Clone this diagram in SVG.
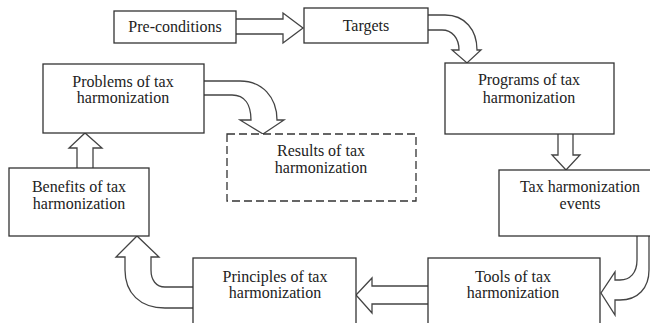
<svg xmlns="http://www.w3.org/2000/svg" width="650" height="323" viewBox="0 0 650 323">
<style>
.box{fill:#fff;stroke:#333;stroke-width:1.3}
.dash{fill:#fff;stroke:#333;stroke-width:1.3;stroke-dasharray:8 4}
.arr{fill:#fff;stroke:#444;stroke-width:1.3;stroke-linejoin:miter}
text{font-family:"Liberation Serif","Times New Roman",serif;font-size:16px;fill:#222;text-anchor:middle}
</style>
<rect width="650" height="323" fill="#fff"/>
<g id="connectors">
<path class="arr" d="M236,19 H283 V13 L303,28 L283,43 V34 H236"/>
<path class="arr" d="M428,15 H445 C465,15 477,30 477,50 H481 L467,63 L452,50 H459 C459,38 452,30 442,30 H428"/>
<path class="arr" d="M558,134 V155 H552 L566,170 L580,155 H573 V134"/>
<path class="arr" d="M637,236 V260 C637,273 630,280 620,280 H615 V272 L601,293 L615,315 V300 H620 C638,300 649,288 649,270 V236"/>
<path class="arr" d="M428,286 H372 V278 L356,295 L372,313 V304 H428"/>
<path class="arr" d="M193,287 H165 C156,287 151,280 151,270 V257 H159 L137,236 L116,257 H125 V270 C125,293 140,308 165,308 H193"/>
<path class="arr" d="M77,168 V148 H69 L85,133 L102,148 H93 V168"/>
<path class="arr" d="M204,81 H240 C262,81 277,97 277,120 H284 L263,134 L240,120 H251 C251,105 245,95 232,95 H204"/>
</g>
<g id="preconditions"><rect class="box" x="114" y="11" width="122" height="32"/><text x="175" y="32">Pre-conditions</text></g>
<g id="targets"><rect class="box" x="304" y="8" width="124" height="35"/><text x="366" y="31">Targets</text></g>
<g id="programs"><rect class="box" x="445" y="63" width="169" height="71"/><text x="529" y="85">Programs of tax</text><text x="529" y="103">harmonization</text></g>
<g id="events"><rect class="box" x="499" y="170" width="160" height="66"/><text x="580" y="192">Tax harmonization</text><text x="580" y="209">events</text></g>
<g id="tools"><rect class="box" x="428" y="258" width="172" height="75"/><text x="513" y="282">Tools of tax</text><text x="513" y="298">harmonization</text></g>
<g id="principles"><rect class="box" x="193" y="258" width="163" height="75"/><text x="275" y="282">Principles  of tax</text><text x="275" y="298">harmonization</text></g>
<g id="benefits"><rect class="box" x="9" y="168" width="140" height="68"/><text x="79" y="192">Benefits of tax</text><text x="79" y="209">harmonization</text></g>
<g id="problems"><rect class="box" x="43" y="64" width="161" height="69"/><text x="123" y="87">Problems of tax</text><text x="123" y="103">harmonization</text></g>
<g id="results"><rect class="dash" x="227" y="134" width="189" height="67"/><text x="321" y="156">Results of tax</text><text x="321" y="173">harmonization</text></g>
</svg>
